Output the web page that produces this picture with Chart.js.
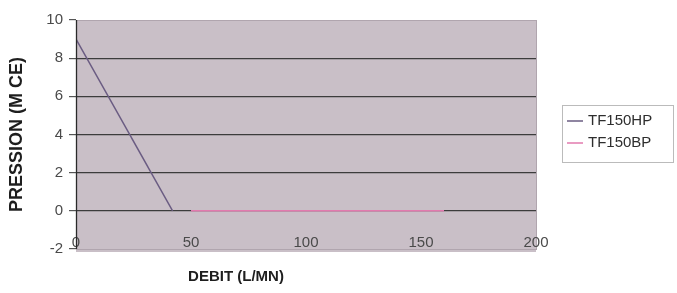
<!DOCTYPE html>
<html>
<head>
<meta charset="utf-8">
<script src="https://cdn.jsdelivr.net/npm/chart.js@4/dist/chart.umd.min.js"></script>
<style>
  html, body { margin: 0; padding: 0; background: #fff; }
  #wrap { width: 677px; height: 293px; position: relative; }
</style>
</head>
<body>
<div id="wrap"><canvas id="chart" width="677" height="293"></canvas></div>
<script>
// ── Données ───────────────────────────────────────────────────────────────────
const seriesNames = ['TF150HP', 'TF150BP'];
const hpDebit     = [0, 42];
const hpPression  = [9, 0];
const bpDebit     = [50, 100, 160];
const bpPression  = [0, 0, 0];
const xTicks      = [0, 50, 100, 150, 200];
const yTicks      = [-2, 0, 2, 4, 6, 8, 10];
const lineColors  = ['#6a5c82', '#e27aae'];

const FONT = "'Liberation Sans', Arial, sans-serif";

const toPoints = (xs, ys) => xs.map((x, i) => ({ x, y: ys[i] }));

// ── Fond gris de la zone de tracé + axe vertical ──────────────────────────────
const plotBg = {
  id: 'plotBg',
  beforeDraw(chart) {
    const { ctx, chartArea: a } = chart;
    ctx.save();
    ctx.fillStyle = '#c9bfc7';
    ctx.fillRect(a.left, a.top, a.right - a.left, a.bottom - a.top + 3);
    ctx.strokeStyle = '#b0a5ae';
    ctx.lineWidth = 1;
    ctx.strokeRect(a.left + 0.5, a.top + 0.5, a.right - a.left, a.bottom - a.top);
    ctx.restore();
  },
  afterDatasetsDraw(chart) {
    const { ctx, chartArea: a, scales } = chart;
    ctx.save();
    ctx.strokeStyle = '#2a2a2a';
    ctx.lineWidth = 1.3;
    ctx.beginPath();
    const x0 = Math.round(scales.x.getPixelForValue(0)) + 0.5;
    ctx.moveTo(x0, a.top);
    ctx.lineTo(x0, a.bottom);
    ctx.stroke();
    ctx.restore();
  },
};

// ── Titre X et légende encadrée ───────────────────────────────────────────────
const extras = {
  id: 'extras',
  afterDraw(chart) {
    const { ctx } = chart;
    ctx.save();
    ctx.fillStyle = '#1e1e1e';
    ctx.font = `bold 15px ${FONT}`;
    ctx.textAlign = 'center';
    ctx.textBaseline = 'middle';
    ctx.fillText('DEBIT (L/MN)', 236, 277);

    // légende
    ctx.setLineDash([1, 1]);
    ctx.strokeStyle = '#777';
    ctx.lineWidth = 1;
    ctx.strokeRect(562.5, 105.5, 111, 57);
    ctx.setLineDash([]);
    ctx.font = `15px ${FONT}`;
    ctx.textAlign = 'left';
    seriesNames.forEach((name, i) => {
      const y = 121 + i * 22;
      ctx.strokeStyle = lineColors[i];
      ctx.lineWidth = 1.5;
      ctx.beginPath();
      ctx.moveTo(567, y);
      ctx.lineTo(583, y);
      ctx.stroke();
      ctx.fillStyle = '#2e2e2e';
      ctx.fillText(name, 588, y);
    });
    ctx.restore();
  },
};

new Chart(document.getElementById('chart'), {
  type: 'scatter',
  data: {
    datasets: [
      {
        label: seriesNames[0],
        data: toPoints(hpDebit, hpPression),
        showLine: true,
        borderColor: lineColors[0],
        borderWidth: 1.5,
        pointRadius: 0,
      },
      {
        label: seriesNames[1],
        data: toPoints(bpDebit, bpPression),
        showLine: true,
        borderColor: lineColors[1],
        borderWidth: 1.5,
        pointRadius: 0,
      },
    ],
  },
  options: {
    responsive: false,
    animation: false,
    layout: { padding: { top: 20, right: 141, bottom: 0, left: 0 } },
    plugins: { legend: { display: false }, tooltip: { enabled: false } },
    scales: {
      x: {
        type: 'linear',
        min: 0,
        max: 200,
        afterBuildTicks: s => { s.ticks = xTicks.map(v => ({ value: v })); },
        afterFit: s => { s.height = 44; },
        grid: { display: false, drawTicks: false },
        border: { display: false },
        ticks: { mirror: true, padding: -3, color: '#4a4a4a', font: { family: FONT, size: 15 } },
      },
      y: {
        min: -2,
        max: 10,
        afterBuildTicks: s => { s.ticks = yTicks.map(v => ({ value: v })); },
        afterFit: s => { s.width = 76; },
        grid: {
          color: ctx => (ctx.tick && (ctx.tick.value === 10 || ctx.tick.value === -2)) ? 'rgba(0,0,0,0)' : '#3c3c3c',
          lineWidth: 1.2,
          tickLength: 7,
          tickColor: '#555',
        },
        border: { display: false },
        ticks: { padding: 6, color: '#4a4a4a', font: { family: FONT, size: 15 } },
        title: {
          display: true,
          text: 'PRESSION (M CE)',
          color: '#1e1e1e',
          font: { family: FONT, size: 18, weight: 'bold' },
          padding: { top: 6, bottom: 0 },
        },
      },
    },
  },
  plugins: [plotBg, extras],
});
</script>
</body>
</html>
